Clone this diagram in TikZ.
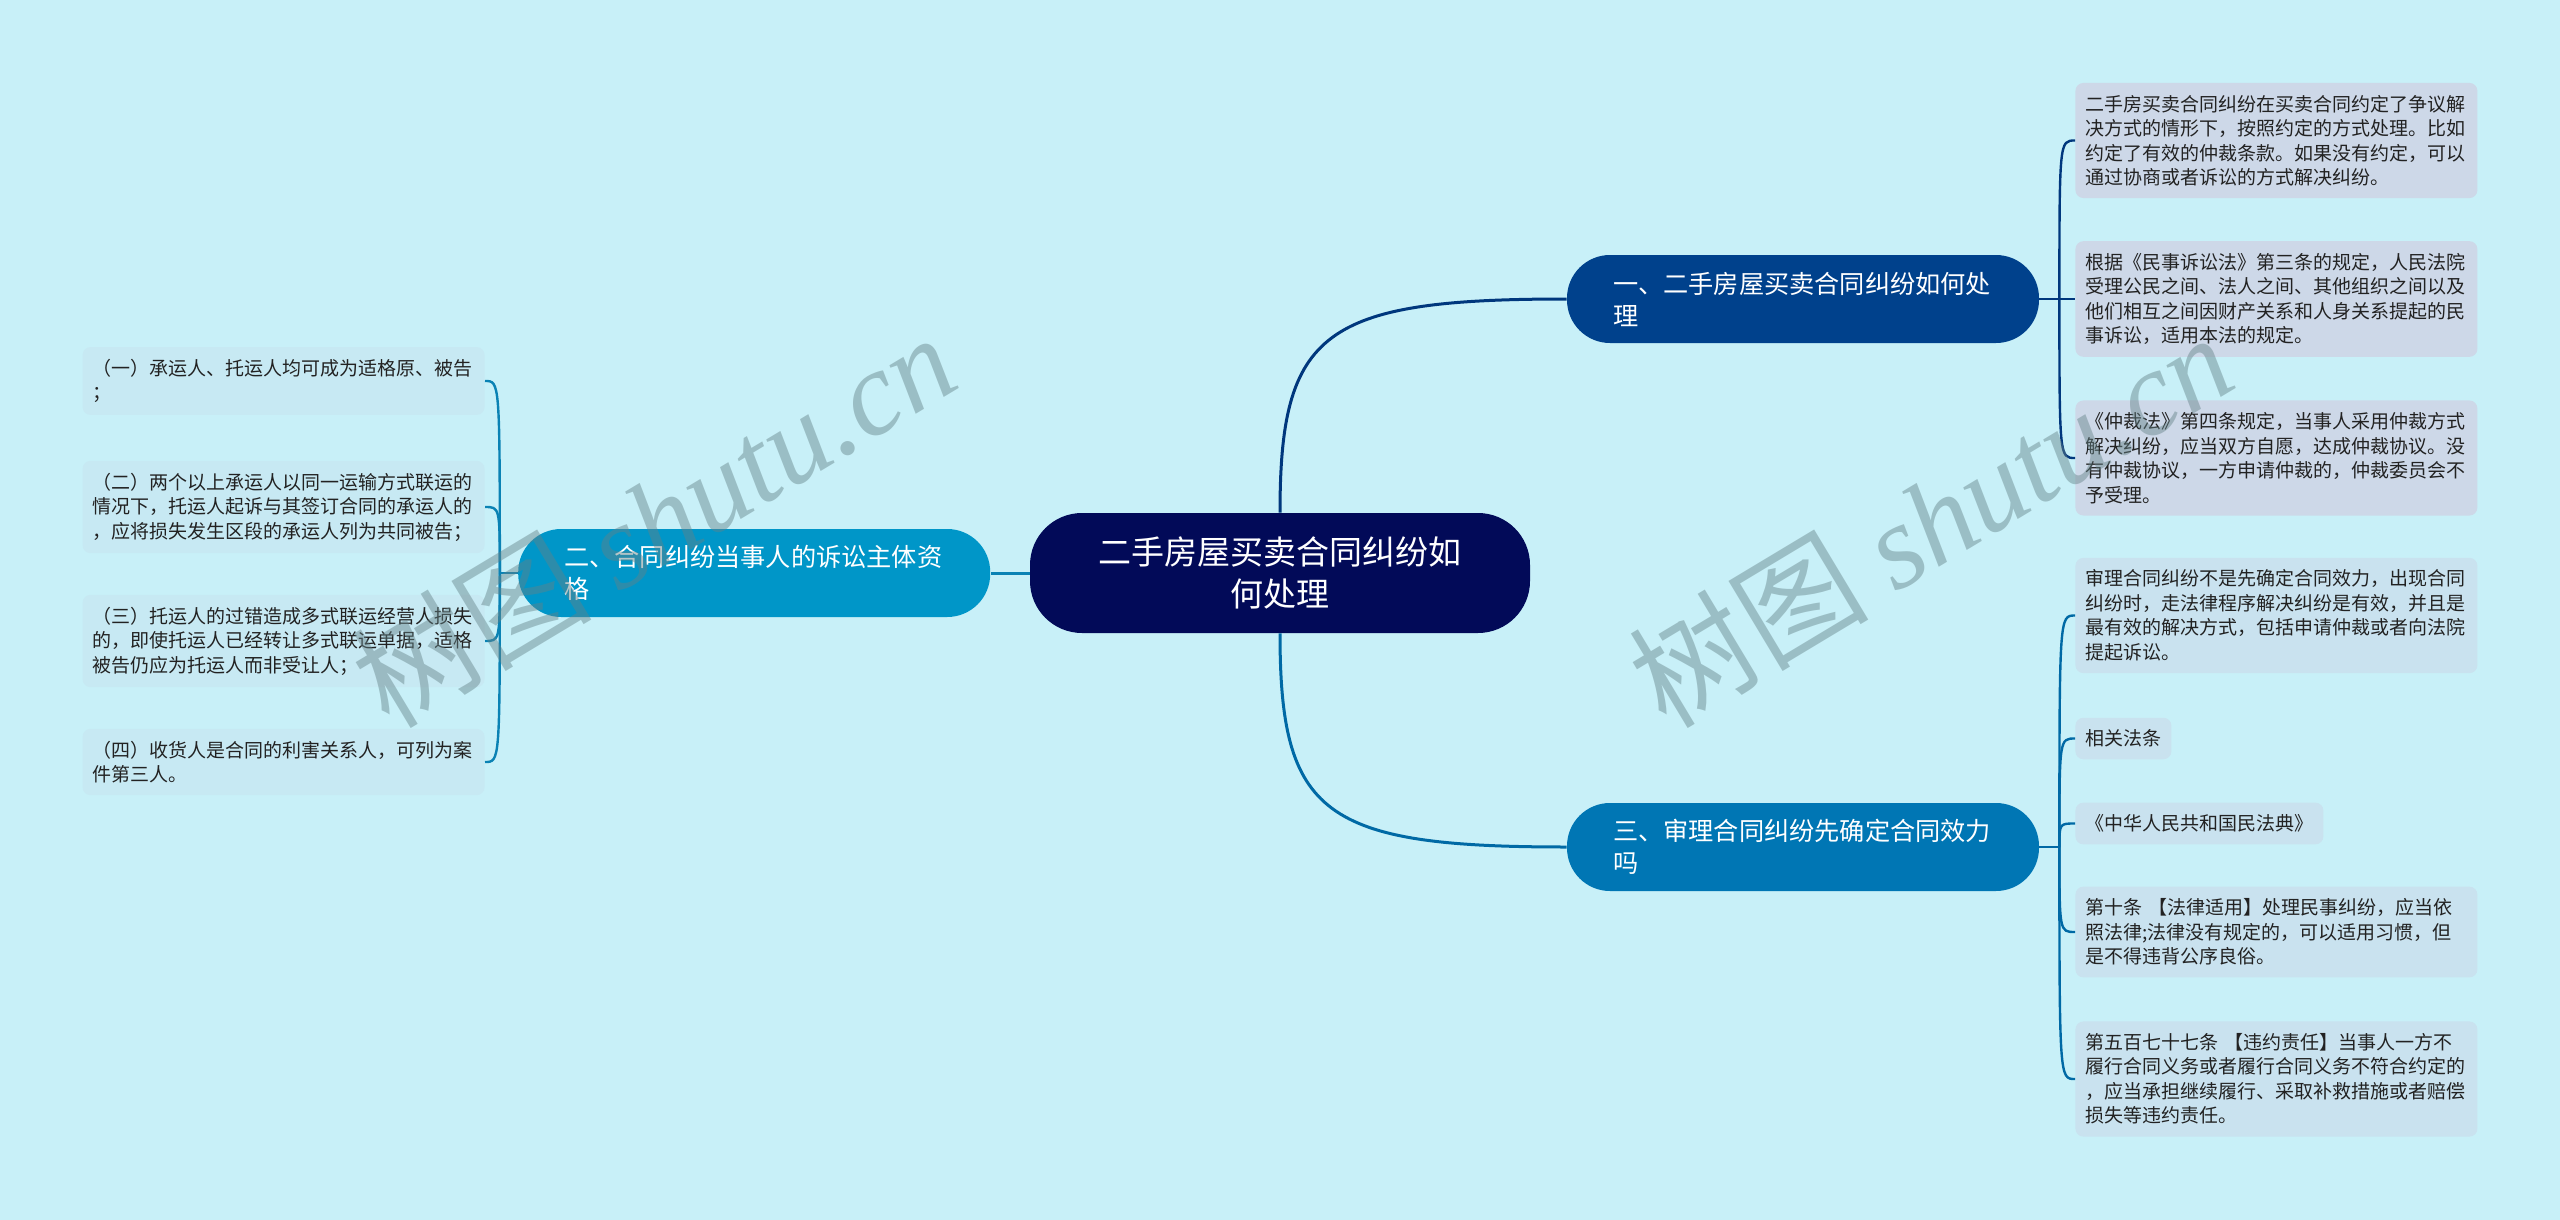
\documentclass[tikz,border=0pt]{standalone}
\usepackage{fontspec}
\setmainfont{Noto Sans CJK SC}
\newfontfamily\wmlatin{Liberation Serif}
\usetikzlibrary{positioning,calc}
\definecolor{bgcol}{RGB}{200,240,248}
\definecolor{rootcol}{RGB}{2,10,88}
\definecolor{bonecol}{RGB}{0,65,140}
\definecolor{btwocol}{RGB}{0,150,200}
\definecolor{bthreecol}{RGB}{0,118,180}
\definecolor{lonecol}{RGB}{0,55,125}
\definecolor{ltwocol}{RGB}{10,130,180}
\definecolor{lthreecol}{RGB}{0,105,165}
\definecolor{leafA}{RGB}{205,216,232}
\definecolor{leafB}{RGB}{199,233,243}
\definecolor{leafC}{RGB}{201,226,239}
\definecolor{leaftext}{RGB}{34,34,34}
\definecolor{wmcol}{RGB}{100,130,135}
\setlength{\parindent}{0pt}

\begin{document}
\begin{tikzpicture}[x=0.5pt, y=-0.5pt,
    root/.style={fill=rootcol, text=white, rounded corners=26pt, minimum width=250pt, minimum height=60pt, align=center, font=\fontsize{16.5}{21}\selectfont},
    branch/.style={fill=#1, text=white, rounded corners=21.5pt, minimum width=236pt, minimum height=44pt, text width=190pt, inner xsep=23pt, align=left, font=\fontsize{12.6}{16}\selectfont},
    leaf/.style={fill=#1, text=leaftext, rounded corners=4pt, inner xsep=5pt, inner ysep=6pt, align=left, font=\fontsize{9.5}{12.25}\selectfont},
    wide/.style={text width=191pt},
    link/.style={draw=#1, line width=1.2pt},
    wmark/.style={text=wmcol, text opacity=0.45, font=\fontsize{60}{60}\selectfont}]
        \fill[bgcol] (0,0) rectangle (2560,1220);
        \useasboundingbox (0,0) rectangle (2560,1220);

        % 中心主题
        \node[root] (root) at (1280,573) {二手房屋买卖合同纠纷如\\何处理};

        % 分支
        \node[branch=bonecol] (b1) at (1803,299) {一、二手房屋买卖合同纠纷如何处\\理};
        \node[branch=btwocol, left=19.5pt of root] (b2) {二、合同纠纷当事人的诉讼主体资\\格};
        \node[branch=bthreecol] (b3) at (1803,847) {三、审理合同纠纷先确定合同效力\\吗};

        % 分支一的内容
        \node[leaf=leafA, wide, anchor=west] (r1) at (2075,140.5) {二手房买卖合同纠纷在买卖合同约定了争议解\\决方式的情形下，按照约定的方式处理。比如\\约定了有效的仲裁条款。如果没有约定，可以\\通过协商或者诉讼的方式解决纠纷。};
        \node[leaf=leafA, wide, anchor=west] (r2) at (2075,299) {根据《民事诉讼法》第三条的规定，人民法院\\受理公民之间、法人之间、其他组织之间以及\\他们相互之间因财产关系和人身关系提起的民\\事诉讼，适用本法的规定。};
        \node[leaf=leafA, wide, anchor=west] (r3) at (2075,458) {《仲裁法》第四条规定，当事人采用仲裁方式\\解决纠纷，应当双方自愿，达成仲裁协议。没\\有仲裁协议，一方申请仲裁的，仲裁委员会不\\予受理。};

        % 分支三的内容
        \node[leaf=leafC, wide, anchor=west] (r4) at (2075,615.5) {审理合同纠纷不是先确定合同效力，出现合同\\纠纷时，走法律程序解决纠纷是有效，并且是\\最有效的解决方式，包括申请仲裁或者向法院\\提起诉讼。};
        \node[leaf=leafC, anchor=west] (r5) at (2075,738.5) {相关法条};
        \node[leaf=leafC, anchor=west] (r6) at (2075,823.5) {《中华人民共和国民法典》};
        \node[leaf=leafC, wide, anchor=west] (r7) at (2075,932) {第十条~【法律适用】处理民事纠纷，应当依\\照法律;法律没有规定的，可以适用习惯，但\\是不得违背公序良俗。};
        \node[leaf=leafC, wide, anchor=west] (r8) at (2075,1079) {第五百七十七条~【违约责任】当事人一方不\\履行合同义务或者履行合同义务不符合约定的\\，应当承担继续履行、采取补救措施或者赔偿\\损失等违约责任。};

        % 分支二的内容
        \node[leaf=leafB, wide, anchor=east] (l1) at (485,381) {（一）承运人、托运人均可成为适格原、被告\\；};
        \node[leaf=leafB, wide, anchor=east] (l2) at (485,507) {（二）两个以上承运人以同一运输方式联运的\\情况下，托运人起诉与其签订合同的承运人的\\，应将损失发生区段的承运人列为共同被告；};
        \node[leaf=leafB, wide, anchor=east] (l3) at (485,641) {（三）托运人的过错造成多式联运经营人损失\\的，即使托运人已经转让多式联运单据，适格\\被告仍应为托运人而非受让人；};
        \node[leaf=leafB, wide, anchor=east] (l4) at (485,762) {（四）收货人是合同的利害关系人，可列为案\\件第三人。};

        % 连线
        \coordinate (c1) at (root.north |- b1.west);
        \coordinate (c3) at (root.south |- b3.west);
        \draw[link=lonecol, line width=1.5pt] (root.north) .. controls ($(root.north)!0.85!(c1)$) and ($(b1.west)!0.85!(c1)$) .. (b1.west);
        \draw[link=lthreecol, line width=1.5pt] (root.south) .. controls ($(root.south)!0.85!(c3)$) and ($(b3.west)!0.85!(c3)$) .. (b3.west);
        \draw[link=ltwocol, line width=1.5pt] (root.west) -- (b2.east);

        \coordinate (j1) at ([xshift=10pt]b1.east);
        \coordinate (j3) at ([xshift=10pt]b3.east);
        \coordinate (j2) at ([xshift=-9pt]b2.west);
        \draw[link=lonecol] (b1.east) -- (j1);
        \draw[link=lthreecol] (b3.east) -- (j3);
        \draw[link=ltwocol] (b2.west) -- (j2);
        \foreach \n in {r1,r2,r3}
            \draw[link=lonecol] (j1) .. controls (j1 |- \n.west) .. (\n.west);
        \foreach \n in {r4,r5,r6,r7,r8}
            \draw[link=lthreecol] (j3) .. controls (j3 |- \n.west) .. (\n.west);
        \foreach \n in {l1,l2,l3,l4}
            \draw[link=ltwocol] (j2) .. controls (j2 |- \n.east) .. (\n.east);

        % 水印
        \node[wmark, rotate=31] (wm1) at (653,519) {树图 {\wmlatin\itshape shutu.cn}};
        \node[wmark, rotate=31] (wm2) at (1930,519) {树图 {\wmlatin\itshape shutu.cn}};
    \end{tikzpicture}
\end{document}
